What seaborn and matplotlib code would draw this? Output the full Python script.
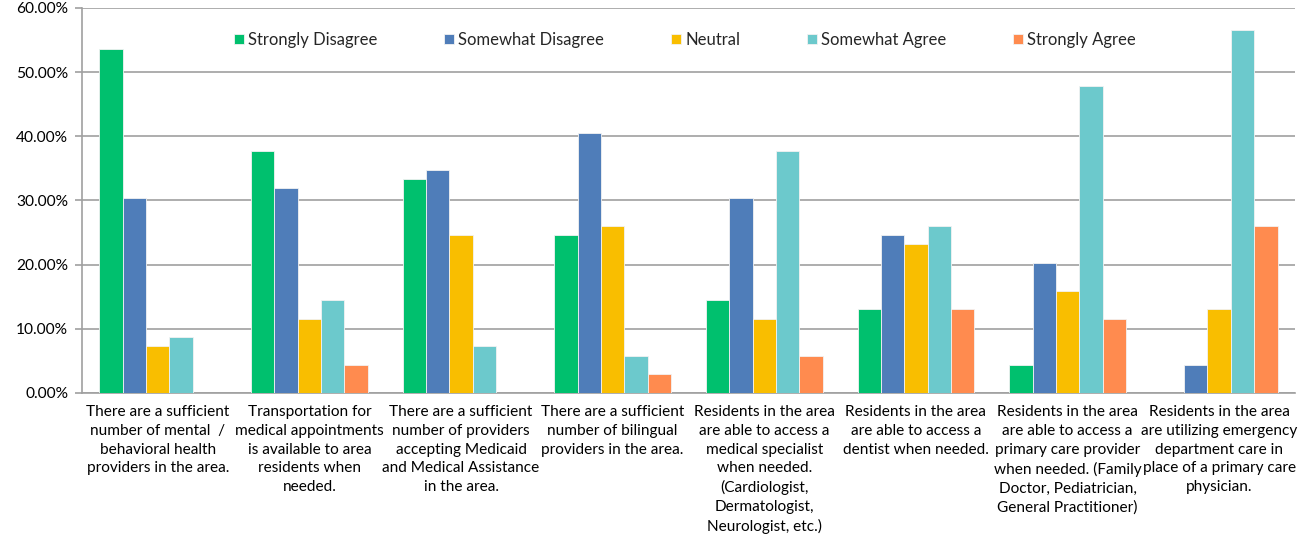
import matplotlib
matplotlib.use("Agg")
import matplotlib.pyplot as plt
import seaborn as sns
import pandas as pd
from matplotlib.ticker import FuncFormatter, FixedLocator

# survey statements (x categories)
statements = [
    "There are a sufficient\nnumber of mental  /\nbehavioral health\nproviders in the area.",
    "Transportation for\nmedical appointments\nis available to area\nresidents when\nneeded.",
    "There are a sufficient\nnumber of providers\naccepting Medicaid\nand Medical Assistance\nin the area.",
    "There are a sufficient\nnumber of bilingual\nproviders in the area.",
    "Residents in the area\nare able to access a\nmedical specialist\nwhen needed.\n(Cardiologist,\nDermatologist,\nNeurologist, etc.)",
    "Residents in the area\nare able to access a\ndentist when needed.",
    "Residents in the area\nare able to access a\nprimary care provider\nwhen needed. (Family\nDoctor, Pediatrician,\nGeneral Practitioner)",
    "Residents in the area\nare utilizing emergency\ndepartment care in\nplace of a primary care\nphysician.",
]

responses = ["Strongly Disagree", "Somewhat Disagree", "Neutral", "Somewhat Agree", "Strongly Agree"]

# percent of respondents per statement
strongly_disagree = [53.62, 37.68, 33.33, 24.64, 14.49, 13.04, 4.35, 0.00]
somewhat_disagree = [30.43, 31.88, 34.78, 40.58, 30.43, 24.64, 20.29, 4.35]
neutral = [7.25, 11.59, 24.64, 26.09, 11.59, 23.19, 15.94, 13.04]
somewhat_agree = [8.70, 14.49, 7.25, 5.80, 37.68, 26.09, 47.83, 56.52]
strongly_agree = [0.00, 4.35, 0.00, 2.90, 5.80, 13.04, 11.59, 26.09]

colors = ["#00C06E", "#4F7DB9", "#F9BE00", "#6CC9CC", "#FF8B4F"]

series = [strongly_disagree, somewhat_disagree, neutral, somewhat_agree, strongly_agree]
rows = []
for resp, vals in zip(responses, series):
    for stmt, v in zip(statements, vals):
        rows.append({"statement": stmt, "response": resp, "pct": v})
df = pd.DataFrame(rows)

sns.set_style("white")
plt.rcParams["font.family"] = ["Lato", "DejaVu Sans"]

fig = plt.figure(figsize=(12.99, 5.5), dpi=100)
ax = fig.add_axes([0.0631, 0.2855, 0.9338, 0.7000])

sns.barplot(data=df, x="statement", y="pct", hue="response", hue_order=responses,
            order=statements, palette=colors, width=0.77, edgecolor="#F2F2F2",
            linewidth=0.6, saturation=1, ax=ax, zorder=3)

ax.set_ylim(0, 60)
ax.set_xlim(-0.5, len(statements) - 0.5)
ax.yaxis.set_major_locator(FixedLocator([0, 10, 20, 30, 40, 50, 60]))
ax.yaxis.set_major_formatter(FuncFormatter(lambda v, p: f"{v:.2f}%"))
ax.grid(axis="y", color="#A0A0A0", linewidth=1.2, zorder=0)
ax.set_axisbelow(True)

for s in ["top", "right"]:
    ax.spines[s].set_visible(False)
for s in ["left", "bottom"]:
    ax.spines[s].set_color("#A0A0A0")
    ax.spines[s].set_linewidth(1.2)

ax.set_xticks(range(len(statements)))
ax.set_xticklabels(statements, fontsize=11.1, linespacing=1.42, va="top")
ax.set_xticks([i - 0.5 for i in range(len(statements) + 1)], minor=True)
ax.tick_params(axis="x", which="major", length=0, pad=9, colors="black")
ax.tick_params(axis="x", which="minor", length=5, width=1.2, color="#A0A0A0", direction="out")
ax.tick_params(axis="y", length=5, width=1.2, color="#A0A0A0", labelsize=11.2, pad=5,
               labelcolor="black", left=True, direction="out")
ax.set_xlabel("")
ax.set_ylabel("")

ax.legend(loc="center", bbox_to_anchor=(0.497, 0.917), ncol=5, frameon=False,
          fontsize=12, handlelength=0.6, handleheight=0.6, handletextpad=0.25,
          columnspacing=4.0)

fig.savefig("out.png", dpi=100)
plt.close(fig)
